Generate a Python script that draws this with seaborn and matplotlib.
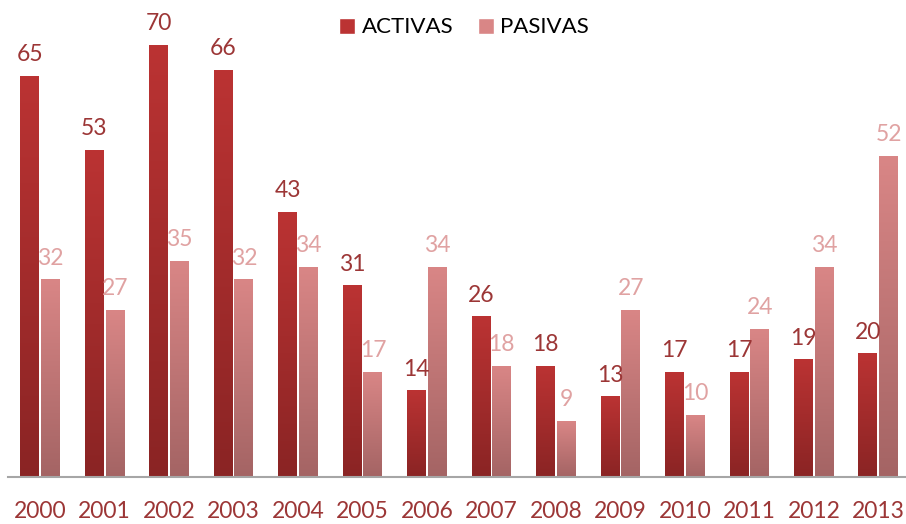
import numpy as np
import pandas as pd
import seaborn as sns
import matplotlib.pyplot as plt
from matplotlib.colors import LinearSegmentedColormap
from matplotlib.patches import Patch

years = ['2000', '2001', '2002', '2003', '2004', '2005', '2006',
         '2007', '2008', '2009', '2010', '2011', '2012', '2013']
activas = [65, 53, 70, 66, 43, 31, 14, 26, 18, 13, 17, 17, 19, 20]
pasivas = [32, 27, 35, 32, 34, 17, 34, 18, 9, 27, 10, 24, 34, 52]

df = pd.DataFrame({'year': years * 2,
                   'value': activas + pasivas,
                   'tipo': ['ACTIVAS'] * len(years) + ['PASIVAS'] * len(years)})

# gradient colours (top, bottom) for each series
grad = {'ACTIVAS': ('#bb3333', '#8a2424'),
        'PASIVAS': ('#d98686', '#a46464')}
label_col = {'ACTIVAS': '#9c3636', 'PASIVAS': '#e0a2a2'}

sns.set_style('white')
plt.rcParams['font.family'] = ['Lato', 'DejaVu Sans']

fig = plt.figure(figsize=(9.06, 5.24), dpi=100)
ax = fig.add_axes([8 / 906, 47 / 524, 898 / 906, 477 / 524])

sns.barplot(data=df, x='year', y='value', hue='tipo', ax=ax,
            palette={'ACTIVAS': grad['ACTIVAS'][0], 'PASIVAS': grad['PASIVAS'][0]},
            width=0.64, gap=0.08, legend=False)

# paint a vertical gradient inside every bar
for cont, name in zip(ax.containers, ['ACTIVAS', 'PASIVAS']):
    cmap = LinearSegmentedColormap.from_list(name, [grad[name][1], grad[name][0]])
    g = np.linspace(0, 1, 256).reshape(-1, 1)
    for bar in cont:
        x0, y0 = bar.get_x(), bar.get_y()
        w, h = bar.get_width(), bar.get_height()
        bar.set_alpha(0)
        ax.imshow(g, cmap=cmap, origin='lower', aspect='auto',
                  extent=(x0, x0 + w, y0, y0 + h), zorder=2)
    ax.bar_label(cont, padding=8, fontsize=16.5, color=label_col[name])

ax.set_xlim(-0.5, 13.43)
ax.set_ylim(0, 77.4)

sns.despine(ax=ax, left=True, top=True, right=True)
ax.spines['bottom'].set_color('#a6a6a6')
ax.spines['bottom'].set_linewidth(1.5)
ax.set_yticks([])
ax.set_xlabel('')
ax.set_ylabel('')
ax.tick_params(axis='x', length=0, pad=17, labelsize=16.5, labelcolor='#9c3636')

handles = [Patch(facecolor=grad['ACTIVAS'][0]), Patch(facecolor=grad['PASIVAS'][0])]
leg = fig.legend(handles, ['ACTIVAS', 'PASIVAS'], loc='upper center',
                 bbox_to_anchor=(0.512, 1.005), ncol=2, frameon=False, fontsize=16,
                 handlelength=0.72, handleheight=0.72, handletextpad=0.3, columnspacing=1.1)
for t in leg.get_texts():
    t.set_color('black')

fig.savefig('out.png', dpi=100)
